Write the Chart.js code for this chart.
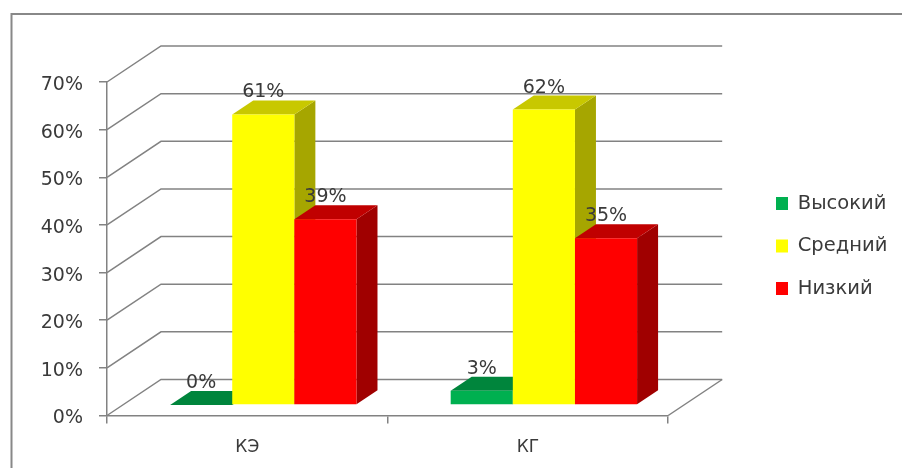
<!DOCTYPE html>
<html>
  <head>
    <meta charset="utf-8" />
    <script src="https://cdn.jsdelivr.net/npm/chart.js"></script>
    <style>
      html, body { margin: 0; padding: 0; background: #fff; }
      canvas { display: block; }
    </style>
  </head>
  <body>
    <canvas id="Chart" width="902" height="468"></canvas>
    <script>
      const categories = ["КЭ", "КГ"];
      const vysokiy = [0, 3];
      const sredniy = [61, 62];
      const nizkiy = [39, 35];

      const fontFamily = "'DejaVu Sans'";
      const textColor = "#3a3a3a";
      const lineColor = "#828282";

      // 3D look: back wall offset and the bars' position and depth inside it
      const wall = { dx: 54, dy: -36 };
      const barShift = { dx: 16, dy: -10.5 };
      const barDepth = { dx: 21, dy: -14 };

      function poly(ctx, color, pts) {
        ctx.fillStyle = color;
        ctx.beginPath();
        pts.forEach((p, i) => (i ? ctx.lineTo(p[0], p[1]) : ctx.moveTo(p[0], p[1])));
        ctx.closePath();
        ctx.fill();
      }

      const frame3d = {
        id: "frame3d",
        beforeDraw(chart) {
          const ctx = chart.ctx;
          ctx.save();
          ctx.fillStyle = "#fff";
          ctx.fillRect(0, 0, chart.width, chart.height);
          ctx.strokeStyle = "#888";
          ctx.lineWidth = 2;
          ctx.beginPath();
          ctx.moveTo(11.5, chart.height);
          ctx.lineTo(11.5, 14);
          ctx.lineTo(chart.width, 14);
          ctx.stroke();
          ctx.restore();
        },
        afterLayout(chart) {
          // the legend sits right of the 3D depth, so move it off the plot edge
          const lg = chart.legend;
          const w = lg.right - lg.left;
          lg.left = 776 - lg.options.labels.padding;
          lg.right = lg.left + w;
          lg.top = 0;
          lg.bottom = 492;
        },
        beforeDatasetsDraw(chart) {
          const ctx = chart.ctx;
          const { left, right, top, bottom } = chart.chartArea;
          const yScale = chart.scales.y;

          // walls and floor
          ctx.save();
          ctx.strokeStyle = lineColor;
          ctx.lineWidth = 1.5;
          yScale.ticks.forEach((t) => {
            const y = yScale.getPixelForValue(t.value);
            ctx.beginPath();
            ctx.moveTo(left, y);
            ctx.lineTo(left + wall.dx, y + wall.dy);
            ctx.lineTo(right + wall.dx, y + wall.dy);
            ctx.stroke();
          });
          ctx.beginPath();
          ctx.moveTo(right, bottom);
          ctx.lineTo(right + wall.dx, bottom + wall.dy);
          ctx.stroke();
          ctx.restore();

          // bars left to right so each one covers the side of the previous
          ctx.save();
          ctx.translate(barShift.dx, barShift.dy);
          chart.data.datasets.forEach((ds, i) => {
            const meta = chart.getDatasetMeta(i);
            meta.data.forEach((bar) => {
              const l = bar.x - bar.width / 2;
              const r = bar.x + bar.width / 2;
              const d = barDepth;
              poly(ctx, ds.sideColor, [[r, bar.y], [r + d.dx, bar.y + d.dy], [r + d.dx, bar.base + d.dy], [r, bar.base]]);
              poly(ctx, ds.topColor, [[l, bar.y], [l + d.dx, bar.y + d.dy], [r + d.dx, bar.y + d.dy], [r, bar.y]]);
            });
            meta.controller.draw();
          });

          // value labels
          ctx.fillStyle = textColor;
          ctx.font = "19px " + fontFamily;
          ctx.textAlign = "center";
          ctx.textBaseline = "middle";
          chart.data.datasets.forEach((ds, i) => {
            chart.getDatasetMeta(i).data.forEach((bar, j) => {
              ctx.fillText(ds.data[j] + "%", bar.x, bar.y - 22);
            });
          });
          ctx.restore();
          return false;
        },
      };

      new Chart(document.getElementById("Chart"), {
        type: "bar",
        data: {
          labels: categories,
          datasets: [
            { label: "Высокий", data: vysokiy, backgroundColor: "#00b050", topColor: "#00853c", sideColor: "#006a30" },
            { label: "Средний", data: sredniy, backgroundColor: "#ffff00", topColor: "#c8c800", sideColor: "#a6a600" },
            { label: "Низкий", data: nizkiy, backgroundColor: "#ff0000", topColor: "#c00000", sideColor: "#a00000" },
          ],
        },
        options: {
          responsive: false,
          animation: false,
          categoryPercentage: 186 / 280,
          barPercentage: 1,
          layout: { padding: { top: 82, right: 89.5 } },
          scales: {
            x: {
              offset: true,
              border: { color: lineColor, width: 1.5 },
              grid: { offset: true, drawOnChartArea: false, color: lineColor, lineWidth: 1.5, tickLength: 8 },
              ticks: { color: textColor, padding: 14, font: { family: fontFamily, size: 17 } },
              afterFit(scale) {
                scale.height = 52.5;
              },
            },
            y: {
              min: 0,
              max: 70,
              border: { color: lineColor, width: 1.5 },
              grid: { drawOnChartArea: false, color: lineColor, lineWidth: 1.5, tickLength: 8 },
              ticks: {
                stepSize: 10,
                color: textColor,
                padding: 16,
                labelOffset: 3,
                font: { family: fontFamily, size: 19 },
                callback: (v) => v + "%",
              },
              afterFit(scale) {
                scale.width = 107;
              },
            },
          },
          plugins: {
            tooltip: { enabled: false },
            legend: {
              position: "right",
              labels: {
                boxWidth: 12,
                boxHeight: 13,
                padding: 23,
                color: textColor,
                font: { family: fontFamily, size: 19.5 },
              },
            },
          },
        },
        plugins: [frame3d],
      });
    </script>
  </body>
</html>
